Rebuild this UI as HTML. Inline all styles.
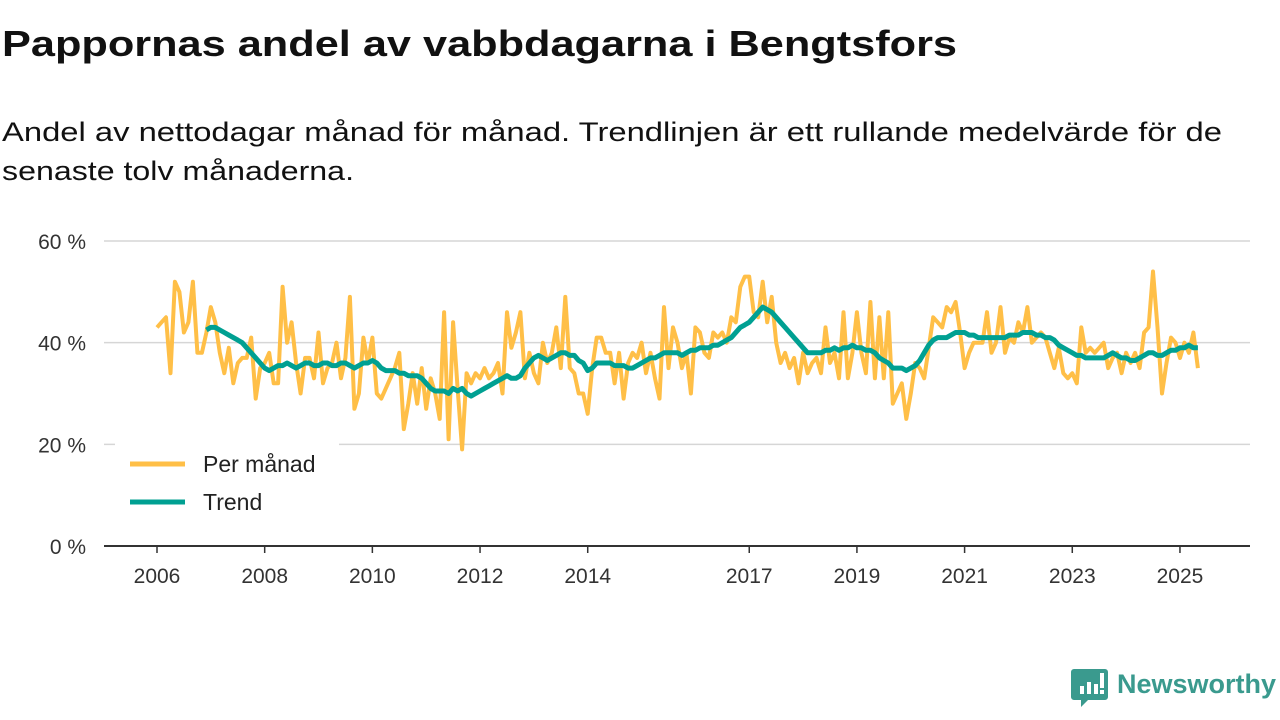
<!DOCTYPE html>
<html><head><meta charset="utf-8"><style>
html,body{margin:0;padding:0;background:#fff;}
svg{display:block;font-family:"Liberation Sans",sans-serif;}
</style></head><body>
<svg id="chart" width="1280" height="720" viewBox="0 0 1280 720">
<text x="2" y="56" font-size="36" font-weight="bold" fill="#111" textLength="955" lengthAdjust="spacingAndGlyphs">Pappornas andel av vabbdagarna i Bengtsfors</text>
<text x="2" y="141" font-size="27" fill="#111" textLength="1220" lengthAdjust="spacingAndGlyphs">Andel av nettodagar månad för månad. Trendlinjen är ett rullande medelvärde för de</text>
<text x="2" y="180" font-size="27" fill="#111" textLength="352" lengthAdjust="spacingAndGlyphs">senaste tolv månaderna.</text>
<g id="grid"></g>
<g id="yaxis"></g>
<g id="xaxis"></g>
<g id="series"></g>
<g>
<rect x="115" y="442" width="224" height="84" fill="#fff"/>
<line x1="130" y1="464" x2="185" y2="464" stroke="#ffbf47" stroke-width="5"/>
<text x="203" y="472" font-size="23" fill="#222">Per månad</text>
<line x1="130" y1="502" x2="185" y2="502" stroke="#00a092" stroke-width="5"/>
<text x="203" y="510" font-size="23" fill="#222">Trend</text>
</g>
<g>
<path d="M1074 669 h31 a3 3 0 0 1 3 3 v25 a3 3 0 0 1 -3 3 h-17 l-7 7 v-7 h-7 a3 3 0 0 1 -3 -3 v-25 a3 3 0 0 1 3 -3z" fill="#3a9a8e"/>
<rect x="1080" y="686" width="4" height="8" fill="#fff"/><rect x="1087" y="682" width="4" height="12" fill="#fff"/><rect x="1094" y="684" width="4" height="10" fill="#fff"/><rect x="1100" y="673" width="4" height="15" fill="#fff"/><rect x="1100" y="690" width="4" height="4" fill="#fff"/>
<text x="1117" y="693" font-size="27" font-weight="bold" fill="#3a9a8e" textLength="159" lengthAdjust="spacingAndGlyphs">Newsworthy</text>
</g>
</svg>
<script>
const yTicks=[0,20,40,60];
const yTickLabels=["0 %","20 %","40 %","60 %"];
const xTickYears=[2006,2008,2010,2012,2014,2017,2019,2021,2023,2025];
const startYear=2006;
const trendStartIndex=11;
const monthly=[
43,44,45,34,52,50,42,44,52,38,38,42,
47,44,38,34,39,32,36,37,37,41,29,35,
36,38,32,32,51,40,44,36,30,37,37,33,
42,32,35,36,40,33,37,49,27,30,41,36,
41,30,29,31,33,35,38,23,28,34,28,35,
27,33,30,25,46,21,44,31,19,34,32,34,
33,35,33,34,36,30,46,39,42,46,33,38,
34,32,40,36,38,43,35,49,35,34,30,30,
26,35,41,41,38,38,32,38,29,36,38,37,
40,34,38,33,29,47,35,43,40,35,38,30,
43,42,38,37,42,41,42,40,45,44,51,53,
53,46,45,52,44,49,40,36,38,35,37,32,
38,34,36,37,34,43,36,38,33,46,33,38,
46,38,34,48,33,45,33,46,28,30,32,25,
30,36,35,33,39,45,44,43,47,46,48,42,
35,38,40,40,40,46,38,40,47,38,41,40,
44,42,47,40,41,42,41,38,35,39,34,33,
34,32,43,38,39,38,39,40,35,37,38,34,
38,36,38,35,42,43,54,43,30,36,41,40,
37,40,38,42,35];
const trend=[42.5,
43,43,42.5,42,41.5,41,40.5,40,39,38,37,36,
35,34.5,35,35.5,35.5,36,35.5,35,35.5,36,36,35.5,
35.5,36,36,35.5,35.5,36,36,35.5,35,35.5,36,36,
36.5,36,35,34.5,34.5,34.5,34,34,33.5,33.5,33.5,33,
32,31,30.5,30.5,30.5,30,31,30.5,31,30,29.5,30,
30.5,31,31.5,32,32.5,33,33.5,33,33,33.5,35,36,
37,37.5,37,36.5,37,37.5,38,38,37.5,37.5,36.5,36,
34.5,35,36,36,36,36,35.5,35.5,35.5,35,35,35.5,
36,36.5,37,37,37.5,38,38,38,38,37.5,38,38.5,
38.5,39,39,39,39.5,39.5,40,40.5,41,42,43,43.5,
44,45,46,47,46.5,46,45,44,43,42,41,40,
39,38,38,38,38,38.5,38.5,39,38.5,39,39,39.5,
39,39,38.5,38.5,38,37,36.5,36,35,35,35,34.5,
35,35.5,36.5,38,39.5,40.5,41,41,41,41.5,42,42,
42,41.5,41.5,41,41,41,41,41,41,41,41.5,41.5,
41.5,42,42,42,41.5,41.5,41,41,40.5,39.5,39,38.5,
38,37.5,37.5,37,37,37,37,37,37.5,38,37.5,37,
37,36.5,36.5,37,37.5,38,38,37.5,37.5,38,38.5,38.5,
39,39,39.5,39,39];

const NS="http://www.w3.org/2000/svg";
const X0=157,PXY=53.84,Y0=546,PXP=5.083;
function xYear(t){return X0+(t-startYear)*PXY;}
function xMonth(i){return xYear(startYear+i/12);}
function yVal(v){return Y0-v*PXP;}
function mk(tag,attrs,parent){const e=document.createElementNS(NS,tag);for(const k in attrs)e.setAttribute(k,attrs[k]);parent.appendChild(e);return e;}

const grid=document.getElementById('grid'),ya=document.getElementById('yaxis'),xa=document.getElementById('xaxis'),ser=document.getElementById('series');
yTicks.forEach((v,i)=>{
  if(v>0){const l=mk('line',{x1:104,x2:1250,y1:yVal(v),y2:yVal(v),stroke:'#d6d6d6','stroke-width':1.5},grid);
  
  }
  const t=mk('text',{x:86,y:yVal(v)+8,'font-size':21,fill:'#333','text-anchor':'end'},ya);
  t.textContent=yTickLabels[i];
  
  
});
const ax=mk('line',{x1:104,x2:1250,y1:Y0,y2:Y0,stroke:'#333','stroke-width':2},xa);


xTickYears.forEach(yr=>{
  const x=xYear(yr);
  const tk=mk('line',{x1:x,x2:x,y1:Y0,y2:Y0+7,stroke:'#333','stroke-width':1.5},xa);
  
  
  const t=mk('text',{x:x,y:583,'font-size':21,fill:'#333','text-anchor':'middle'},xa);
  t.textContent=yr;
  
  
});
const mp=mk('polyline',{points:monthly.map((v,i)=>xMonth(i).toFixed(1)+','+yVal(v).toFixed(1)).join(' '),fill:'none',stroke:'#ffbf47','stroke-width':4,'stroke-linejoin':'round'},ser);


const tp=mk('polyline',{points:trend.map((v,i)=>xMonth(i+trendStartIndex).toFixed(1)+','+yVal(v).toFixed(1)).join(' '),fill:'none',stroke:'#00a092','stroke-width':5,'stroke-linejoin':'round'},ser);


</script>
</body></html>
